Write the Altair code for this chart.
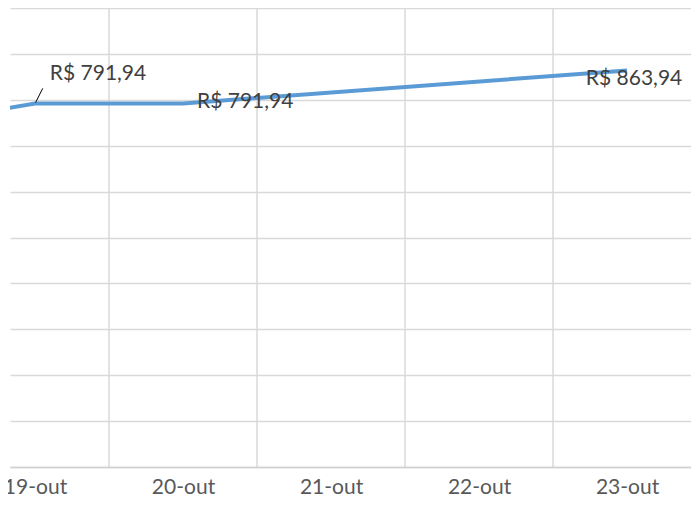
import json
import altair as alt
import pandas as pd

categories = ["18-out", "19-out", "20-out", "21-out", "22-out", "23-out"]
values = [736.0, 791.94, 791.94, None, None, 863.94]

df = pd.DataFrame({"idx": list(range(len(categories))), "cat": categories, "value": values})

label_expr = json.dumps(categories) + "[datum.value]"
FONT = "Lato"
LINE = "#5B9BD5"
GRID = "#D9D9D9"

xscale = alt.Scale(domain=[0.831, 5.432], nice=False, zero=False)
yscale = alt.Scale(domain=[0, 1000], nice=False)

base = alt.Chart(df)

vgrid = base.transform_calculate(b="datum.idx + 0.5").mark_rule(
    color=GRID, strokeWidth=1.5, clip=True
).encode(x=alt.X("b:Q", scale=xscale))

line = base.transform_filter("isValid(datum.value)").mark_line(
    color=LINE, strokeWidth=4, clip=True
).encode(
    x=alt.X("idx:Q", scale=xscale,
            axis=alt.Axis(values=list(range(1, len(categories))), labelExpr=label_expr,
                          grid=False, ticks=False, domain=True, domainColor="#D0D0D0",
                          domainWidth=1.5, labelFont=FONT, labelFontSize=21,
                          labelColor="#595959", labelPadding=9, title=None)),
    y=alt.Y("value:Q", scale=yscale,
            axis=alt.Axis(values=list(range(0, 1001, 100)), labels=False, ticks=False,
                          domain=False, grid=True, gridColor=GRID, gridWidth=1.5, title=None)),
)

lbl = base.transform_filter("isValid(datum.value)").transform_calculate(
    txt="'R$ ' + replace(format(datum.value, '.2f'), '.', ',')"
)

def label_layer(cat, dx, dy, align):
    return lbl.transform_filter(alt.datum.cat == cat).mark_text(
        font=FONT, fontSize=21, color="#404040", align=align, baseline="middle", dx=dx, dy=dy
    ).encode(x=alt.X("idx:Q", scale=xscale), y=alt.Y("value:Q", scale=yscale), text="txt:N")

leader = base.transform_filter(alt.datum.cat == "19-out").transform_calculate(
    x1="datum.idx + 0.004", y1="datum.value + 2", x2="datum.idx + 0.052", y2="datum.value + 33"
).mark_rule(color="#000000", strokeWidth=1).encode(
    x=alt.X("x1:Q", scale=xscale), y=alt.Y("y1:Q", scale=yscale), x2="x2:Q", y2="y2:Q"
)

chart = alt.layer(
    vgrid, line, leader,
    label_layer("19-out", 63, -29, "center"),
    label_layer("20-out", 14, -1, "left"),
    label_layer("23-out", 7, 9, "center"),
).properties(
    width=681, height=459,
    autosize=alt.AutoSizeParams(type="none"),
    padding={"left": 2, "top": 0, "right": 0, "bottom": 30},
).configure_view(stroke=None)

chart.save("out.html", embed_options={"renderer": "svg", "actions": False})
